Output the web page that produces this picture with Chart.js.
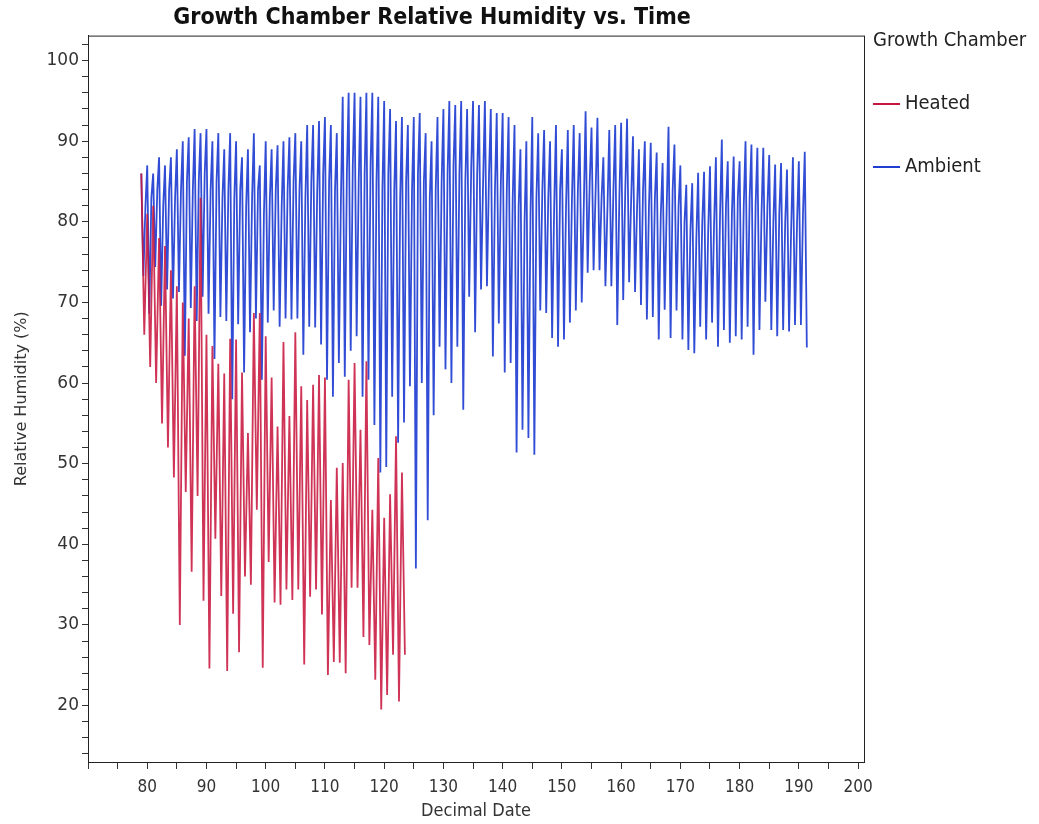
<!DOCTYPE html>
<html>
<head>
<meta charset="utf-8">
<script src="https://cdn.jsdelivr.net/npm/chart.js@4/dist/chart.umd.min.js"></script>
<style>
  html, body { margin: 0; padding: 0; background: #fff; }
  #wrap { position: relative; width: 1039px; height: 824px; }
  #legend { position: absolute; left: 873px; top: 27px; font-family: "DejaVu Sans Condensed", "DejaVu Sans", sans-serif; font-size: 20px; color: #222; }
  #legend .item { position: absolute; left: 0; white-space: nowrap; line-height: 24px; }
  #legend .swatch { display: inline-block; width: 27px; height: 2px; vertical-align: middle; margin-right: 5px; }
</style>
</head>
<body>
<div id="wrap">
  <canvas id="chart" width="1039" height="824"></canvas>
  <div id="legend">
    <div class="item" style="top:0px">Growth Chamber</div>
    <div class="item" style="top:63px"><span class="swatch" style="background:#c8173f"></span>Heated</div>
    <div class="item" style="top:126px"><span class="swatch" style="background:#1f3fd0"></span>Ambient</div>
  </div>
</div>
<script>
// daily high (night), low (afternoon) and evening relative humidity

var heated_days = [79,80,81,82,83,84,85,86,87,88,89,90,91,92,93,94,95,96,97,98,99,100,
  101,102,103,104,105,106,107,108,109,110,111,112,113,114,115,116,117,118,119,120,121,122,123];
var heated_high = [86,81,82,78,77,74,72,70,68,72,83,66,64.6,62.4,61.2,65.5,65.4,61.3,53.8,68.7,68.7,65.8,
  60.7,54.6,65.1,55.9,66.3,59.6,57.9,59.8,61,60.7,45.5,49.5,50.1,60.4,62.5,54.2,62.7,44.3,50.7,43.3,46.2,53.4,48.9];
var heated_low = [66,62,60,55,52,48.3,30,46.5,36.6,46,33,24.6,40.7,33.6,24.3,31.4,26.6,36,35,44.3,24.7,37.8,
  32.8,32.5,34.4,33.1,34.4,25.1,33.5,34.4,31.3,23.8,25.4,25.3,24,34.6,34.6,28.5,27.5,23.2,19.5,21.3,26.3,20.5,26.3];

var ambient_days = [79,80,81,82,83,84,85,86,87,88,89,90,91,92,93,94,95,96,97,98,99,100,
  101,102,103,104,105,106,107,108,109,110,111,112,113,114,115,116,117,118,119,120,
  121,122,123,124,125,126,127,128,129,130,131,132,133,134,135,136,137,138,139,140,
  141,142,143,144,145,146,147,148,149,150,151,152,153,154,155,156,157,158,159,160,
  161,162,163,164,165,166,167,168,169,170,171,172,173,174,175,176,177,178,179,180,
  181,182,183,184,185,186,187,188,189,190,191];
var ambient_high = [86,87,86,88,87,88,89,90,90.5,91.5,91,91.5,90,91,89,91,90,88,89,91,87,90,
  89,89.5,90,90.5,91,90,92,92,92.5,93,92,91,95.5,96,96,95.5,96,96,95.5,95,
  94,92.5,93,92,93,93.5,91,90,93,94,95,94.5,95,94,95,94.5,95,94,93.5,93.5,
  93,92,89,90,93,91,91.4,90,92,89,91.4,92,91,93.7,91.7,92.9,88,91.4,92,92.3,
  92.8,90.6,89,90,89.8,88.6,87.3,91.8,89.6,87,84.6,84.8,86.1,86.2,86.9,88,90.2,87.5,88.1,87.5,
  90,89.6,89.2,89.2,88.3,87.1,87.3,86.5,88,87.5,88.7];
var ambient_low = [73.3,68.6,74.4,69.6,71.6,70.5,71.3,63.4,69.3,67.7,70.7,68.6,63,68.2,67.7,58,67.3,61.3,66.3,68,60.4,67.5,
  69,67,68,67.9,68,63.5,67,66.9,64.8,60.4,58.3,62.5,60.8,64,65.8,58.3,60.4,54.8,48.9,49.6,
  58.3,52.6,55.1,59.6,37,60,43,56,64.5,61.7,60,64.5,56.7,70.7,66.3,71.6,72,63.3,67.4,61.3,
  62.5,51.4,54.2,53.2,51.1,69,68.7,65.6,64.5,65.4,67.5,69,70,73.7,74,74,72,72,67.2,70.3,
  72.5,71.3,69.7,67.9,68.2,65.4,69.1,65.6,69,65.4,64.1,63.7,67,65.4,67.5,64.5,66.6,65,65.8,65.4,
  67,63.5,66.6,70.1,66.6,65.8,66.6,66.4,67.2,67.2,64.4];
var ambient_evening = [82,83,84,82,84,83,84,
  85,84,85,86,84,85,83,
  84,83,84,82,83,84,81,
  83,84,82,84,85,84,83,
  85,84,86,85,84,83,
  86,87,85,86,87,85,84,86,
  84,83,85,84,86,85,83,84,
  85,86,87,86,85,87,86,85,86,84,85,84,
  83,82,80,81,83,84,83,82,84,82,
  83,84,82,85,84,83,82,84,83,84,
  83,82,84,82,83,81,82,84,82,80,
  79,78,80,79,80,81,82,81,83,82,
  83,82,81,82,80,81,80,79,80,81,80];

var x_min = 70, x_max = 201;
var y_min = 13, y_max = 103.1;

function heated_points(){
    var pts = [];
    for (let i=0; i<heated_days.length; i++){
        pts.push({x: heated_days[i], y: heated_high[i]});
        pts.push({x: heated_days[i] + 0.5, y: heated_low[i]});
    }
    return pts;
}

function ambient_points(){
    var pts = [];
    let last = ambient_days.length - 1;
    for (let i=0; i<ambient_days.length; i++){
        pts.push({x: ambient_days[i], y: ambient_high[i]});
        pts.push({x: ambient_days[i] + 0.35, y: ambient_low[i]});
        if (i < last) pts.push({x: ambient_days[i] + 0.7, y: ambient_evening[i]});
    }
    return pts;
}

function make_ticks(from, to, step){
    var t = [];
    for (let v=from; v<=to; v+=step) t.push({value: v});
    return t;
}

var frame = {
    id: 'frame',
    afterDraw(chart){
        let a = chart.chartArea, c = chart.ctx;
        c.save();
        c.strokeStyle = '#222';
        c.lineWidth = 1;
        c.strokeRect(a.left + 0.5, a.top + 0.5, a.right - a.left, a.bottom - a.top);
        c.restore();
    }
};

var ctx = document.getElementById('chart');

var chart = new Chart(ctx, {
    type: 'line',
    data: {
        datasets: [{
            label: 'Heated',
            data: heated_points(),
            borderColor: 'rgba(200, 23, 63, 0.88)',
            borderWidth: 1.8,
            pointRadius: 0,
            order: 1
        }, {
            label: 'Ambient',
            data: ambient_points(),
            borderColor: 'rgba(28, 58, 208, 0.9)',
            borderWidth: 1.8,
            pointRadius: 0,
            order: 2
        }]
    },
    options: {
        responsive: false,
        animation: false,
        layout: { padding: { left: 0, right: 175, top: 0, bottom: 0 } },
        plugins: {
            legend: { display: false },
            tooltip: { enabled: false },
            title: {
                display: true,
                text: 'Growth Chamber Relative Humidity vs. Time',
                color: '#111',
                font: { family: '"DejaVu Sans Condensed", "DejaVu Sans", sans-serif', size: 23, weight: 'bold' },
                padding: { top: 4, bottom: 4 }
            }
        },
        scales: {
            x: {
                type: 'linear',
                min: x_min,
                max: x_max,
                afterBuildTicks(scale){ scale.ticks = make_ticks(70, 200, 5); },
                afterFit(scale){ scale.height = 62; },
                ticks: {
                    autoSkip: false,
                    maxRotation: 0,
                    color: '#333',
                    padding: 8,
                    font: { family: '"DejaVu Sans Condensed", "DejaVu Sans", sans-serif', size: 17 },
                    callback: v => (v % 10 === 0 && v >= 80) ? v : ''
                },
                grid: { drawOnChartArea: false, tickLength: 7, color: '#333' },
                border: { color: '#222' },
                title: {
                    display: true,
                    text: 'Decimal Date',
                    color: '#333',
                    padding: { top: 0, bottom: 2 },
                    font: { family: '"DejaVu Sans Condensed", "DejaVu Sans", sans-serif', size: 18 }
                }
            },
            y: {
                min: y_min,
                max: y_max,
                afterBuildTicks(scale){ scale.ticks = make_ticks(14, 102, 2); },
                afterFit(scale){ scale.width = 88; },
                ticks: {
                    autoSkip: false,
                    color: '#333',
                    padding: 3,
                    font: { family: '"DejaVu Sans", sans-serif', size: 17 },
                    callback: v => (v % 10 === 0) ? v : ''
                },
                grid: { drawOnChartArea: false, tickLength: 6, color: '#333' },
                border: { color: '#222' },
                title: {
                    display: true,
                    text: 'Relative Humidity (%)',
                    color: '#333',
                    padding: { top: 12, bottom: 0 },
                    font: { family: '"DejaVu Sans", sans-serif', size: 16 }
                }
            }
        }
    },
    plugins: [frame]
});
</script>
</body>
</html>
